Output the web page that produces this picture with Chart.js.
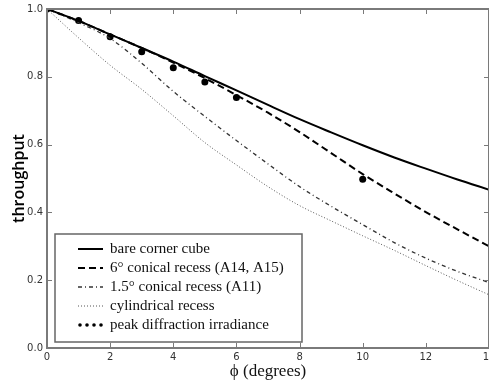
<!DOCTYPE html>
<html>
<head>
<meta charset="utf-8">
<script src="https://cdn.jsdelivr.net/npm/chart.js@4"></script>
<style>
    html, body { margin: 0; padding: 0; background: #fff; overflow: hidden; width: 489px; height: 385px; }
    #wrap { position: relative; width: 493px; height: 385px; }
</style>
</head>
<body>
<div id="wrap"><canvas id="throughputChart"></canvas></div>
<script>
// angle of incidence (degrees)
const angles = [0, 1, 2, 3, 4, 5, 6, 7, 8, 9, 10, 11, 12, 13, 14];

// throughput curves
const bareCube    = [1.0, 0.965, 0.925, 0.885, 0.845, 0.802, 0.760, 0.717, 0.675, 0.636, 0.598, 0.562, 0.529, 0.497, 0.467];
const conical6    = [1.0, 0.965, 0.925, 0.885, 0.842, 0.796, 0.746, 0.694, 0.637, 0.575, 0.513, 0.456, 0.401, 0.350, 0.300];
const conical15   = [1.0, 0.960, 0.913, 0.840, 0.757, 0.683, 0.612, 0.543, 0.476, 0.418, 0.364, 0.311, 0.265, 0.226, 0.193];
const cylindrical = [1.0, 0.915, 0.834, 0.763, 0.685, 0.606, 0.540, 0.476, 0.420, 0.375, 0.331, 0.288, 0.243, 0.199, 0.157];

// peak diffraction irradiance (dots)
const peakAngles = [0, 1, 2, 3, 4, 5, 6, 10];
const peakValues = [1.0, 0.966, 0.918, 0.874, 0.827, 0.785, 0.739, 0.498];

const xTicks = [0, 2, 4, 6, 8, 10, 12, 14];
const yTicks = [0.0, 0.2, 0.4, 0.6, 0.8, 1.0];

const legendLabels = [
    'bare corner cube',
    '6\u00B0 conical recess (A14, A15)',
    '1.5\u00B0 conical recess (A11)',
    'cylindrical recess',
    'peak diffraction irradiance'
];

const toXY = (xs, ys) => xs.map((x, i) => ({ x: x, y: ys[i] }));

// box round the plot, inward ticks, and the framed legend
const framePlugin = {
    id: 'frame',
    afterDraw(chart) {
        const ctx = chart.ctx;
        const a = chart.chartArea;
        const xs = chart.scales.x;
        const ys = chart.scales.y;
        ctx.save();
        ctx.strokeStyle = '#7a7a7a';
        ctx.lineWidth = 1;
        xTicks.forEach(t => {
            const px = Math.round(xs.getPixelForValue(t)) + 0.5;
            ctx.beginPath();
            ctx.moveTo(px, a.bottom); ctx.lineTo(px, a.bottom - 5);
            ctx.moveTo(px, a.top); ctx.lineTo(px, a.top + 5);
            ctx.stroke();
        });
        yTicks.forEach(t => {
            const py = Math.round(ys.getPixelForValue(t)) + 0.5;
            ctx.beginPath();
            ctx.moveTo(a.left, py); ctx.lineTo(a.left + 5, py);
            ctx.moveTo(a.right, py); ctx.lineTo(a.right - 5, py);
            ctx.stroke();
        });
        ctx.lineWidth = 2;
        ctx.strokeRect(a.left, a.top, a.right - a.left, a.bottom - a.top);

        // legend
        const lx = 55, ly = 234, lw = 247, lh = 108;
        ctx.fillStyle = '#fff';
        ctx.fillRect(lx, ly, lw, lh);
        ctx.lineWidth = 1.5;
        ctx.strokeStyle = '#666';
        ctx.strokeRect(lx, ly, lw, lh);
        ctx.font = '15px "Liberation Serif", serif';
        ctx.textBaseline = 'middle';
        chart.data.datasets.forEach((ds, i) => {
            const y = 249 + i * 19;
            if (ds.showLine === false) {
                ctx.fillStyle = '#000';
                [80, 87, 94, 101].forEach(cx => {
                    ctx.beginPath();
                    ctx.arc(cx, y, 1.8, 0, Math.PI * 2);
                    ctx.fill();
                });
            } else {
                ctx.beginPath();
                ctx.setLineDash(ds.borderDash || []);
                ctx.strokeStyle = ds.borderColor;
                ctx.lineWidth = ds.borderWidth;
                ctx.moveTo(78, y);
                ctx.lineTo(103, y);
                ctx.stroke();
                ctx.setLineDash([]);
            }
            ctx.fillStyle = '#111';
            ctx.fillText(legendLabels[i], 110, y);
        });
        ctx.restore();
    }
};

new Chart(document.getElementById('throughputChart'), {
    type: 'line',
    data: {
        datasets: [
            {
                label: legendLabels[0],
                data: toXY(angles, bareCube),
                borderColor: '#000',
                borderWidth: 2,
                pointRadius: 0,
                cubicInterpolationMode: 'monotone'
            },
            {
                label: legendLabels[1],
                data: toXY(angles, conical6),
                borderColor: '#000',
                borderWidth: 2,
                borderDash: [7, 4],
                pointRadius: 0,
                cubicInterpolationMode: 'monotone'
            },
            {
                label: legendLabels[2],
                data: toXY(angles, conical15),
                borderColor: '#333',
                borderWidth: 1.3,
                borderDash: [4, 3, 1, 3],
                pointRadius: 0,
                cubicInterpolationMode: 'monotone'
            },
            {
                label: legendLabels[3],
                data: toXY(angles, cylindrical),
                borderColor: '#555',
                borderWidth: 1,
                borderDash: [1, 2],
                pointRadius: 0,
                cubicInterpolationMode: 'monotone'
            },
            {
                label: legendLabels[4],
                data: toXY(peakAngles, peakValues),
                showLine: false,
                borderColor: '#000',
                backgroundColor: '#000',
                pointRadius: 3.5,
                pointBorderWidth: 0
            }
        ]
    },
    options: {
        responsive: true,
        maintainAspectRatio: false,
        animation: false,
        layout: { padding: { top: 9, right: 1, bottom: 0, left: 0 } },
        scales: {
            x: {
                type: 'linear',
                min: 0,
                max: 14,
                afterBuildTicks: scale => { scale.ticks = xTicks.map(v => ({ value: v })); },
                afterFit: scale => {
                    scale.height = 37;
                    scale.paddingLeft = 0;
                    scale.paddingRight = 0;
                },
                grid: { display: false, drawTicks: false },
                border: { display: false },
                ticks: {
                    padding: 3,
                    maxRotation: 0,
                    autoSkip: false,
                    color: '#333',
                    font: { size: 10, family: "'DejaVu Sans', sans-serif" },
                    callback: v => String(v)
                },
                title: {
                    display: true,
                    text: '\u03D5 (degrees)',
                    color: '#111',
                    padding: { top: 0, bottom: 3 },
                    font: { size: 17, family: "'Liberation Serif', serif" }
                }
            },
            y: {
                min: 0,
                max: 1,
                afterBuildTicks: scale => { scale.ticks = yTicks.map(v => ({ value: v })); },
                afterFit: scale => {
                    scale.width = 47;
                    scale.paddingTop = 0;
                    scale.paddingBottom = 0;
                },
                grid: { display: false, drawTicks: false },
                border: { display: false },
                ticks: {
                    padding: 4,
                    color: '#333',
                    font: { size: 10, family: "'DejaVu Sans', sans-serif" },
                    callback: v => Number(v).toFixed(1)
                },
                title: {
                    display: true,
                    text: 'throughput',
                    color: '#000',
                    padding: { top: 10, bottom: 0 },
                    font: { size: 16, weight: '600', family: "'Open Sans', sans-serif" }
                }
            }
        },
        plugins: {
            legend: { display: false },
            tooltip: { enabled: false }
        }
    },
    plugins: [framePlugin]
});
</script>
</body>
</html>
